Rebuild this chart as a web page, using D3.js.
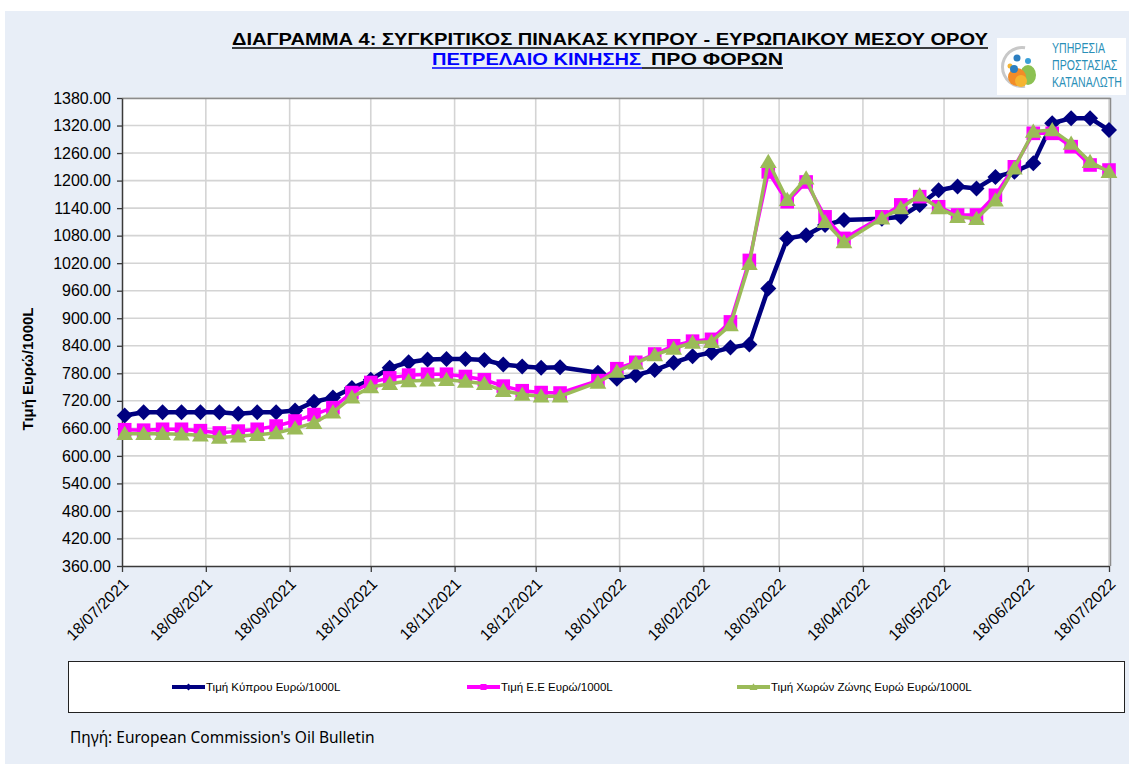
<!DOCTYPE html>
<html>
<head>
<meta charset="utf-8">
<script src="https://cdn.jsdelivr.net/npm/d3@7"></script>
<style>
    body {margin: 0; background: #fff;}
    text {font-family: "Liberation Sans", Arial, sans-serif;}
</style>
</head>
<body>
<div id="chart"></div>
<script>

// weekly oil bulletin dates (no bulletin on 03/01/2022 and 18/04/2022)
var dates = [
    "19/07/2021", "26/07/2021", "02/08/2021", "09/08/2021", "16/08/2021", "23/08/2021", "30/08/2021",
    "06/09/2021", "13/09/2021", "20/09/2021", "27/09/2021", "04/10/2021", "11/10/2021", "18/10/2021",
    "25/10/2021", "01/11/2021", "08/11/2021", "15/11/2021", "22/11/2021", "29/11/2021", "06/12/2021",
    "13/12/2021", "20/12/2021", "27/12/2021", "10/01/2022", "17/01/2022", "24/01/2022", "31/01/2022",
    "07/02/2022", "14/02/2022", "21/02/2022", "28/02/2022", "07/03/2022", "14/03/2022", "21/03/2022",
    "28/03/2022", "04/04/2022", "11/04/2022", "25/04/2022", "02/05/2022", "09/05/2022", "16/05/2022",
    "23/05/2022", "30/05/2022", "06/06/2022", "13/06/2022", "20/06/2022", "27/06/2022", "04/07/2022",
    "11/07/2022", "18/07/2022"
];

var cyprus = [
    688, 695, 695, 695, 695, 695, 692,
    695, 695, 699, 718, 727, 748, 766,
    792, 804, 810, 811, 811, 809, 799,
    795, 792, 793, 781, 768, 776, 787,
    803, 817, 825, 836, 843, 965, 1074,
    1081, 1103, 1114, 1117, 1121, 1147, 1179,
    1187, 1183, 1208, 1219, 1238, 1325, 1336,
    1336, 1310
];

var eu = [
    657, 656, 658, 658, 655, 650, 654,
    658, 665, 676, 690, 705, 738, 760,
    770, 776, 778, 778, 773, 766, 752,
    742, 738, 737, 764, 790, 804, 822,
    840, 850, 854, 892, 1026, 1219, 1154,
    1197, 1121, 1074, 1121, 1147, 1165, 1143,
    1125, 1125, 1168, 1230, 1303, 1303, 1274,
    1234, 1223
];

var eurozone = [
    648, 648, 648, 647, 645, 640, 643,
    646, 650, 660, 672, 695, 728, 750,
    757, 763, 765, 766, 762, 757, 742,
    734, 730, 730, 760, 784, 802, 820,
    834, 847, 849, 885, 1019, 1241, 1158,
    1205, 1110, 1066, 1118, 1140, 1168, 1140,
    1121, 1117, 1157, 1227, 1307, 1310, 1281,
    1241, 1219
];

var seriesNames = ["Τιμή Κύπρου Ευρώ/1000L", "Τιμή Ε.Ε Ευρώ/1000L", "Τιμή Χωρών Ζώνης Ευρώ Ευρώ/1000L"];

var xTickLabels = [
    "18/07/2021", "18/08/2021", "18/09/2021", "18/10/2021", "18/11/2021", "18/12/2021", "18/01/2022",
    "18/02/2022", "18/03/2022", "18/04/2022", "18/05/2022", "18/06/2022", "18/07/2022"
];

var yTickValues = [360, 420, 480, 540, 600, 660, 720, 780, 840, 900, 960, 1020, 1080, 1140, 1200, 1260, 1320, 1380];

var W = 1129, H = 764;
var parse = d3.timeParse("%d/%m/%Y");
var fmt2 = d3.format(".2f");

var svg = d3.select("#chart").append("svg")
    .attr("width", W)
    .attr("height", H);

// panel
svg.append("rect")
    .attr("x", 5).attr("y", 11)
    .attr("width", W - 5).attr("height", H - 11)
    .attr("fill", "#e8eef7");

var margin = {top: 98, left: 122}
    , width = 988
    , height = 468
    , g = svg.append("g").attr("transform", "translate(" + margin.left + "," + margin.top + ")");

var x = d3.scaleTime()
    .domain([parse(xTickLabels[0]), parse(xTickLabels[xTickLabels.length - 1])])
    .range([0, width - 1]);

var y = d3.scaleLinear()
    .domain([360, 1380])
    .range([height, 0]);

g.append("rect")
    .attr("width", width).attr("height", height)
    .attr("fill", "#fff");

// grid
g.append("g")
    .selectAll("line")
    .data(yTickValues.slice(1))
    .enter().append("line")
    .attr("x1", 0).attr("x2", width)
    .attr("y1", d => y(d)).attr("y2", d => y(d))
    .attr("stroke", "#d4d4d4").attr("stroke-width", 1.6);

g.append("g")
    .selectAll("line")
    .data(xTickLabels.slice(1))
    .enter().append("line")
    .attr("x1", d => x(parse(d))).attr("x2", d => x(parse(d)))
    .attr("y1", 0).attr("y2", height)
    .attr("stroke", "#d4d4d4").attr("stroke-width", 1.6);

// plot border top / right
g.append("path")
    .attr("d", "M0,0.5H" + (width + 0.5) + "V" + height)
    .attr("fill", "none").attr("stroke", "#8c8c8c").attr("stroke-width", 1.5);

// axes
var yAxis = d3.axisLeft(y)
    .tickValues(yTickValues)
    .tickSizeInner(5)
    .tickSizeOuter(0)
    .tickPadding(6)
    .tickFormat(fmt2);

var xAxis = d3.axisBottom(x)
    .tickValues(xTickLabels.map(parse))
    .tickSizeInner(6)
    .tickSizeOuter(0)
    .tickFormat(d3.timeFormat("%d/%m/%Y"));

var ya = g.append("g").attr("class", "axis axis--y").call(yAxis);
ya.select(".domain").attr("stroke", "#3a3a3a").attr("stroke-width", 1.5);
ya.selectAll(".tick line").attr("stroke", "#3a3a3a").attr("stroke-width", 1.3);
ya.selectAll(".tick text")
    .attr("font-size", 16)
    .attr("fill", "#000")
    .style("font-family", "'Liberation Sans', Arial, sans-serif");

var xa = g.append("g")
    .attr("class", "axis axis--x")
    .attr("transform", "translate(0," + height + ")")
    .call(xAxis);
xa.select(".domain").attr("stroke", "#3a3a3a").attr("stroke-width", 1.5);
xa.selectAll(".tick line").attr("stroke", "#3a3a3a").attr("stroke-width", 1.3);
xa.selectAll(".tick text")
    .attr("font-size", 16)
    .attr("fill", "#000")
    .attr("text-anchor", "end")
    .attr("dy", 0)
    .attr("y", 0)
    .attr("transform", "translate(7,19) rotate(-45)")
    .style("font-family", "'Liberation Sans', Arial, sans-serif");

// y title
svg.append("text")
    .attr("transform", "translate(33,369) rotate(-90)")
    .attr("text-anchor", "middle")
    .attr("font-size", 15)
    .attr("font-weight", "bold")
    .text("Τιμή Ευρώ/1000L");

// markers
function diamond(r) {
    return "M0," + (-r) + "L" + r + ",0L0," + r + "L" + (-r) + ",0Z";
}
function square(r) {
    return "M" + (-r) + "," + (-r) + "H" + r + "V" + r + "H" + (-r) + "Z";
}
function triangle(r) {
    return "M0," + (-r) + "L" + (r * 1.05) + "," + (r * 0.78) + "H" + (-r * 1.05) + "Z";
}

var series = [
    {name: seriesNames[0], values: cyprus, color: "#000080", lw: 4.5, marker: diamond(8)},
    {name: seriesNames[1], values: eu, color: "#ff00ff", lw: 3.5, marker: square(6.8)},
    {name: seriesNames[2], values: eurozone, color: "#9bbb59", lw: 3.5, marker: triangle(8)}
];

var line_gen = d3.line()
    .x(d => x(d.date))
    .y(d => y(d.v));

var lines_g = g.append("g").attr("class", "chart-pane");

series.forEach(function(s) {
    var data = s.values.map((v, i) => ({date: parse(dates[i]), v: v}));
    var sg = lines_g.append("g");
    sg.append("path")
        .attr("d", line_gen(data))
        .attr("fill", "none")
        .attr("stroke", s.color)
        .attr("stroke-width", s.lw)
        .attr("stroke-linejoin", "round");
    sg.selectAll(".mk")
        .data(data)
        .enter().append("path")
        .attr("class", "mk")
        .attr("d", s.marker)
        .attr("transform", d => "translate(" + x(d.date) + "," + y(d.v) + ")")
        .attr("fill", s.color);
});

// legend
var leg = svg.append("g");
leg.append("rect")
    .attr("x", 68.5).attr("y", 661.5)
    .attr("width", 1056).attr("height", 51)
    .attr("fill", "#fff")
    .attr("stroke", "#222").attr("stroke-width", 1);

var legX = [172, 467, 737];
var legMarkers = [diamond(3.5), square(3), triangle(3.8)];
series.forEach(function(s, i) {
    var lg = leg.append("g").attr("transform", "translate(" + legX[i] + ",687)");
    lg.append("line")
        .attr("x1", 0).attr("x2", 33)
        .attr("stroke", s.color).attr("stroke-width", 4);
    lg.append("path")
        .attr("d", legMarkers[i])
        .attr("transform", "translate(16.5,0)")
        .attr("fill", s.color);
    lg.append("text")
        .attr("x", 34).attr("y", 4)
        .attr("font-size", 11.5)
        .text(s.name);
});

// source
svg.append("text")
    .attr("x", 70).attr("y", 743)
    .attr("font-size", 15.5)
    .style("font-family", "'Noto Sans', 'Open Sans', sans-serif")
    .text("Πηγή: European Commission's Oil Bulletin");

// title
var tfont = "'Liberation Sans Narrow', 'Liberation Sans', Arial, sans-serif";
svg.append("text")
    .attr("x", 232).attr("y", 45)
    .attr("font-size", 17)
    .attr("font-weight", "bold")
    .attr("textLength", 756)
    .attr("lengthAdjust", "spacingAndGlyphs")
    .style("font-family", tfont)
    .text("ΔΙΑΓΡΑΜΜΑ 4: ΣΥΓΚΡΙΤΙΚΟΣ ΠΙΝΑΚΑΣ ΚΥΠΡΟΥ - ΕΥΡΩΠΑΙΚΟΥ ΜΕΣΟΥ ΟΡΟΥ");
svg.append("line")
    .attr("x1", 232).attr("x2", 988)
    .attr("y1", 48).attr("y2", 48)
    .attr("stroke", "#000").attr("stroke-width", 1.6);

svg.append("text")
    .attr("x", 432).attr("y", 65)
    .attr("font-size", 17)
    .attr("font-weight", "bold")
    .attr("fill", "#0000ff")
    .attr("textLength", 209)
    .attr("lengthAdjust", "spacingAndGlyphs")
    .style("font-family", tfont)
    .text("ΠΕΤΡΕΛΑΙΟ ΚΙΝΗΣΗΣ");
svg.append("line")
    .attr("x1", 432).attr("x2", 642)
    .attr("y1", 68).attr("y2", 68)
    .attr("stroke", "#0000ff").attr("stroke-width", 1.6);
svg.append("text")
    .attr("x", 651).attr("y", 65)
    .attr("font-size", 17)
    .attr("font-weight", "bold")
    .attr("textLength", 132)
    .attr("lengthAdjust", "spacingAndGlyphs")
    .style("font-family", tfont)
    .text("ΠΡΟ  ΦΟΡΩΝ");
svg.append("line")
    .attr("x1", 642).attr("x2", 783)
    .attr("y1", 68).attr("y2", 68)
    .attr("stroke", "#000").attr("stroke-width", 1.6);

// logo
var logo = svg.append("g").attr("transform", "translate(997,38)");
logo.append("rect").attr("width", 129).attr("height", 57).attr("fill", "#fff");
logo.append("path")
    .attr("d", d3.arc()({innerRadius: 18, outerRadius: 21, startAngle: Math.PI * 0.95, endAngle: Math.PI * 2.05}))
    .attr("transform", "translate(25,29)")
    .attr("fill", "#c8c8c8");
logo.append("ellipse").attr("cx", 31).attr("cy", 37).attr("rx", 8).attr("ry", 10).attr("fill", "#8cc152");
logo.append("ellipse").attr("cx", 20).attr("cy", 39).attr("rx", 9).attr("ry", 9).attr("fill", "#f28c28");
logo.append("ellipse").attr("cx", 24).attr("cy", 43).attr("rx", 6).attr("ry", 6).attr("fill", "#f5b431");
logo.append("circle").attr("cx", 20).attr("cy", 20).attr("r", 3.5).attr("fill", "#2d7fc1");
logo.append("circle").attr("cx", 13).attr("cy", 28).attr("r", 2.5).attr("fill", "#f5b431");
logo.append("circle").attr("cx", 31).attr("cy", 23).attr("r", 3).attr("fill", "#3aa0d8");
logo.append("circle").attr("cx", 17).attr("cy", 31).attr("r", 4).attr("fill", "#2d7fc1");
var logoText = ["ΥΠΗΡΕΣΙΑ", "ΠΡΟΣΤΑΣΙΑΣ", "ΚΑΤΑΝΑΛΩΤΗ"];
// condensed text: draw at a normal width, then squeeze horizontally
var logoTg = logo.append("g").attr("transform", "translate(55,0) scale(0.73,1)");
logoText.forEach(function(t, i) {
    logoTg.append("text")
        .attr("x", 0).attr("y", 15 + i * 17)
        .attr("font-size", 14.5)
        .attr("fill", "#2a8fb8")
        .text(t);
});

</script>
</body>
</html>
